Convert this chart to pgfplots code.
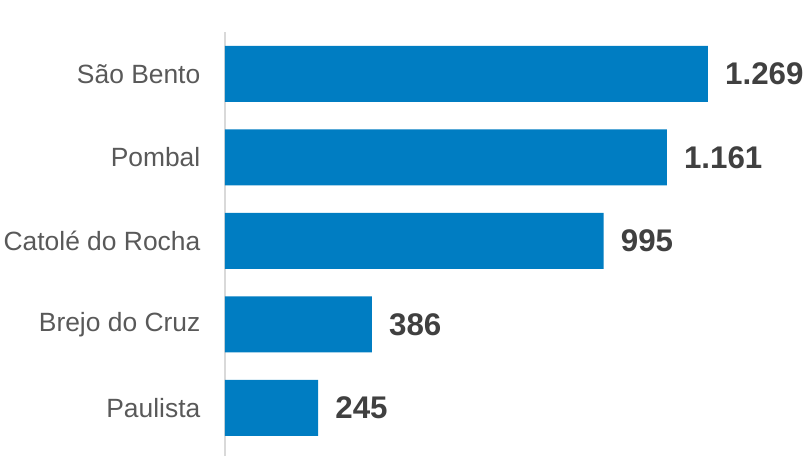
\documentclass[border=0pt]{standalone}
\usepackage{pgfplots}
\pgfplotsset{compat=1.18}
\usepackage{fontspec}
\setmainfont{Liberation Sans}

\definecolor{barblue}{RGB}{0,125,194}
\definecolor{catgray}{RGB}{89,89,89}
\definecolor{numgray}{RGB}{64,64,64}
\definecolor{axgray}{RGB}{217,217,217}

\begin{document}
\begin{tikzpicture}
  % fixed page: 810 x 456 pt, axis box starts at (0,0)
  \useasboundingbox (-225pt,0pt) rectangle (585pt,456pt);
  \begin{axis}[
      scale only axis,
      width=580pt,
      height=424pt,
      xbar,
      bar width=56pt,
      xmin=0, xmax=1524,
      ymin=-0.575, ymax=4.503,
      axis x line=none,
      axis y line=left,
      axis line style={draw=axgray, line width=1.5pt, -},
      ytick={0,1,2,3,4},
      yticklabels={Paulista,Brejo do Cruz,Catolé do Rocha,Pombal,São Bento},
      major tick length=0pt,
      yticklabel style={font=\fontsize{26.4}{30}\selectfont, text=catgray,
                        inner sep=0pt, xshift=-24.5pt},
      point meta=explicit symbolic,
      nodes near coords,
      nodes near coords style={font=\fontsize{31.3}{36}\selectfont\bfseries,
                               text=numgray, anchor=west, inner sep=0pt,
                               xshift=17pt},
      clip=false,
    ]
    \addplot[fill=barblue, draw=none] coordinates {
      (1269,4) [1.269]
      (1161,3) [1.161]
      (995,2)  [995]
      (386,1)  [386]
      (245,0)  [245]
    };
  \end{axis}
\end{tikzpicture}
\end{document}
